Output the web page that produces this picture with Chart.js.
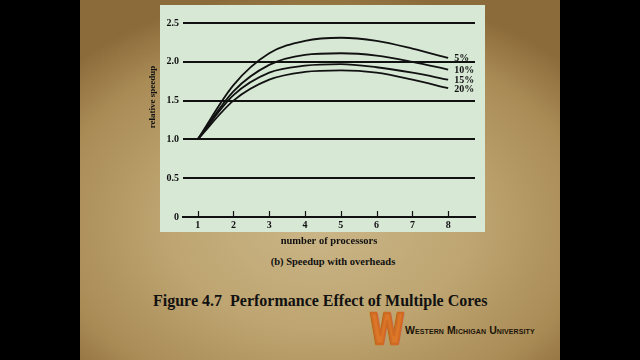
<!DOCTYPE html>
<html>
<head>
<meta charset="utf-8">
<script src="https://cdn.jsdelivr.net/npm/chart.js@4"></script>
<style>
  html, body { margin: 0; padding: 0; background: #000; }
  #stage { position: relative; width: 640px; height: 360px; overflow: hidden; background: #000; }
  #slide {
    position: absolute; left: 80px; top: 0; width: 480px; height: 360px;
    background: radial-gradient(ellipse 70% 65% at 50% 62%, #cbb688 0%, #bea571 45%, #a98b56 80%, #8c6b3a 100%);
  }
  #panel { position: absolute; left: 160px; top: 5px; width: 325px; height: 227px; background: #d7e8d5; }
  #chart { position: absolute; left: 0; top: 0; }
  .txt { position: absolute; font-family: 'Liberation Serif', serif; font-weight: bold; color: #111; white-space: pre; }
  #sub { left: 233px; width: 200px; top: 255px; line-height: 13px; font-size: 10.5px; text-align: center; }
  #fig { left: 153px; top: 290px; line-height: 21px; font-size: 16px; }
  #logo {
    position: absolute; left: 370px; top: 309px; font-family: 'DejaVu Sans', sans-serif; font-weight: bold;
    font-size: 42px; line-height: 42px; color: #dc7628; -webkit-text-stroke: 2.5px #d06a22;
    text-shadow: 1px 0 #6e3510, -1px 0 #6e3510, 0 1px #6e3510, 0 -1px #6e3510;
    transform: scaleX(0.74); transform-origin: left top;
  }
  #wmu {
    position: absolute; left: 405px; top: 324px; font-family: 'Liberation Sans', sans-serif; font-weight: bold;
    font-size: 10.5px; line-height: 12px; color: #1c1408; font-variant: small-caps; letter-spacing: 0.1px;
  }
</style>
</head>
<body>
<div id="stage">
  <div id="slide"></div>
  <div id="panel"></div>
  <div class="txt" id="sub">(b) Speedup with overheads</div>
  <div class="txt" id="fig">Figure 4.7  Performance Effect of Multiple Cores</div>
  <div id="logo">W</div>
  <div id="wmu">Western Michigan University</div>
  <canvas id="chart" width="640" height="360"></canvas>
</div>
<script>
// number of processors
const processors = [1, 2, 3, 4, 5, 6, 7, 8];
const xTicks = [1, 2, 3, 4, 5, 6, 7, 8];
const yTicks = [0, 0.5, 1.0, 1.5, 2.0, 2.5];

// relative speedup for each overhead level
const overheadLabels = ['5%', '10%', '15%', '20%'];
const speedup5 = [1.0, 1.70, 2.11, 2.27, 2.31, 2.27, 2.17, 2.05];
const speedup10 = [1.0, 1.62, 1.96, 2.09, 2.11, 2.08, 2.00, 1.90];
const speedup15 = [1.0, 1.57, 1.86, 1.95, 1.97, 1.93, 1.86, 1.77];
const speedup20 = [1.0, 1.50, 1.77, 1.87, 1.89, 1.86, 1.77, 1.66];

const xTitle = 'number of processors';
const yTitle = 'relative speedup';

Chart.defaults.font.family = "'Liberation Serif', serif";
Chart.defaults.font.weight = 'bold';
Chart.defaults.color = '#111';

function series(values) {
    return processors.map((p, i) => ({ x: p, y: values[i] }));
}

const endLabels = {
    id: 'endLabels',
    afterDatasetsDraw(chart) {
        const ctx = chart.ctx;
        ctx.save();
        ctx.font = "bold 10px 'Liberation Serif', serif";
        ctx.fillStyle = '#111';
        ctx.textBaseline = 'middle';
        ctx.textAlign = 'left';
        chart.data.datasets.forEach((ds, i) => {
            const pts = chart.getDatasetMeta(i).data;
            const last = pts[pts.length - 1];
            ctx.fillText(ds.label, last.x + 6, last.y + 1);
        });

        // small tick marks sitting on top of the x axis
        const xs = chart.scales.x;
        const base = chart.chartArea.bottom;
        ctx.strokeStyle = '#111';
        ctx.lineWidth = 1.2;
        xTicks.forEach(v => {
            const px = Math.round(xs.getPixelForValue(v)) + 0.5;
            ctx.beginPath();
            ctx.moveTo(px, base - 6);
            ctx.lineTo(px, base);
            ctx.stroke();
        });

        // rotated y-axis title
        ctx.font = "bold 9px 'Liberation Serif', serif";
        ctx.textAlign = 'center';
        ctx.translate(153, 97);
        ctx.rotate(-Math.PI / 2);
        ctx.fillText(yTitle, 0, 0);
        ctx.restore();
    }
};

new Chart(document.getElementById('chart').getContext('2d'), {
    type: 'line',
    data: {
        datasets: [
            { label: overheadLabels[0], data: series(speedup5) },
            { label: overheadLabels[1], data: series(speedup10) },
            { label: overheadLabels[2], data: series(speedup15) },
            { label: overheadLabels[3], data: series(speedup20) }
        ].map(d => Object.assign(d, {
            borderColor: '#111',
            borderWidth: 1.8,
            pointRadius: 0,
            cubicInterpolationMode: 'monotone',
            fill: false
        }))
    },
    options: {
        responsive: false,
        animation: false,
        devicePixelRatio: 1,
        layout: { padding: { left: 140, right: 165, top: 23, bottom: 106 } },
        plugins: {
            legend: { display: false },
            tooltip: { enabled: false }
        },
        scales: {
            x: {
                type: 'linear',
                min: 0.59,
                max: 8.75,
                afterBuildTicks: scale => { scale.ticks = xTicks.map(v => ({ value: v })); },
                afterFit: scale => { scale.height = 37; },
                ticks: { font: { size: 10, weight: 'bold' }, padding: 2, maxRotation: 0 },
                grid: { display: true, drawOnChartArea: false, drawTicks: false },
                border: { display: true, color: '#111', width: 2 },
                title: {
                    display: true,
                    text: xTitle,
                    font: { size: 10.5, weight: 'bold' },
                    padding: { top: 0, bottom: 6 }
                }
            },
            y: {
                min: 0,
                max: 2.5,
                afterBuildTicks: scale => { scale.ticks = yTicks.map(v => ({ value: v })); },
                afterFit: scale => { scale.width = 43; },
                ticks: {
                    font: { size: 10, weight: 'bold' },
                    padding: 4,
                    callback: v => v === 0 ? '0' : v.toFixed(1)
                },
                grid: {
                    drawTicks: false,
                    lineWidth: 2,
                    color: c => (c.tick && c.tick.value === 0) ? 'rgba(0,0,0,0)' : '#111'
                },
                border: { display: false }
            }
        }
    },
    plugins: [endLabels]
});
</script>
</body>
</html>
